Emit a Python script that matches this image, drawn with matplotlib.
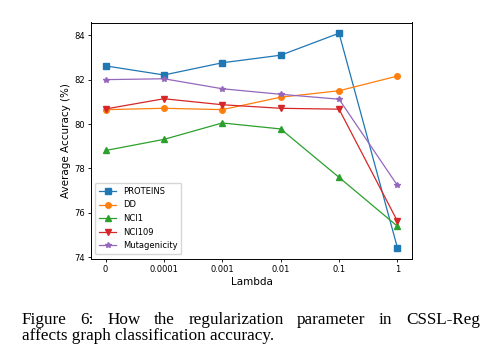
import matplotlib
matplotlib.use("Agg")
import matplotlib.pyplot as plt

lambdas = ["0", "0.0001", "0.001", "0.01", "0.1", "1"]
proteins = [82.62, 82.21, 82.76, 83.10, 84.09, 74.43]
dd = [80.65, 80.71, 80.65, 81.21, 81.50, 82.16]
nci1 = [78.81, 79.31, 80.05, 79.78, 77.60, 75.40]
nci109 = [80.68, 81.14, 80.87, 80.71, 80.67, 75.63]
mutagenicity = [82.00, 82.04, 81.59, 81.34, 81.12, 77.24]

caption_line1 = "Figure 6: How the regularization parameter in CSSL-Reg"
caption_line2 = "affects graph classification accuracy."

fig = plt.figure(figsize=(4.88, 3.54), dpi=100)
ax = fig.add_axes([91 / 488, 1 - 258.5 / 354, 321 / 488, 236 / 354])

x = range(len(lambdas))
series = [
    (proteins, "PROTEINS", "s", "#1f77b4"),
    (dd, "DD", "o", "#ff7f0e"),
    (nci1, "NCI1", "^", "#2ca02c"),
    (nci109, "NCI109", "v", "#d62728"),
    (mutagenicity, "Mutagenicity", "*", "#9467bd"),
]
for vals, name, mk, col in series:
    ax.plot(x, vals, marker=mk, color=col, label=name, lw=0.9, ms=4)

ax.set_xticks(list(x))
ax.set_xticklabels(lambdas)
ax.set_yticks([74, 76, 78, 80, 82, 84])
ax.tick_params(labelsize=6, length=2.5, width=0.6, pad=2)
ax.set_xlabel("Lambda", fontsize=7.5, labelpad=2)
ax.set_ylabel("Average Accuracy (%)", fontsize=7.5, labelpad=2)
for s in ax.spines.values():
    s.set_linewidth(0.7)
ax.legend(loc="lower left", fontsize=6, handlelength=2.0, borderpad=0.5,
          labelspacing=0.55, framealpha=0.8)

# caption, first line justified across the width
fig.canvas.draw()
r = fig.canvas.get_renderer()
words = caption_line1.split(" ")
left, right = 22, 480
fs = 12.3
tmp = [fig.text(0, 0, w, fontsize=fs, family="Liberation Serif") for w in words]
widths = [t.get_window_extent(r).width for t in tmp]
for t in tmp:
    t.remove()
gap = (right - left - sum(widths)) / (len(words) - 1)
xpos = left
for w, wd in zip(words, widths):
    fig.text(xpos / 488, 1 - 324 / 354, w, fontsize=fs, family="Liberation Serif",
             va="baseline", ha="left")
    xpos += wd + gap
fig.text(left / 488, 1 - 340 / 354, caption_line2, fontsize=fs,
         family="Liberation Serif", va="baseline", ha="left")

fig.savefig("out.png", dpi=100)
